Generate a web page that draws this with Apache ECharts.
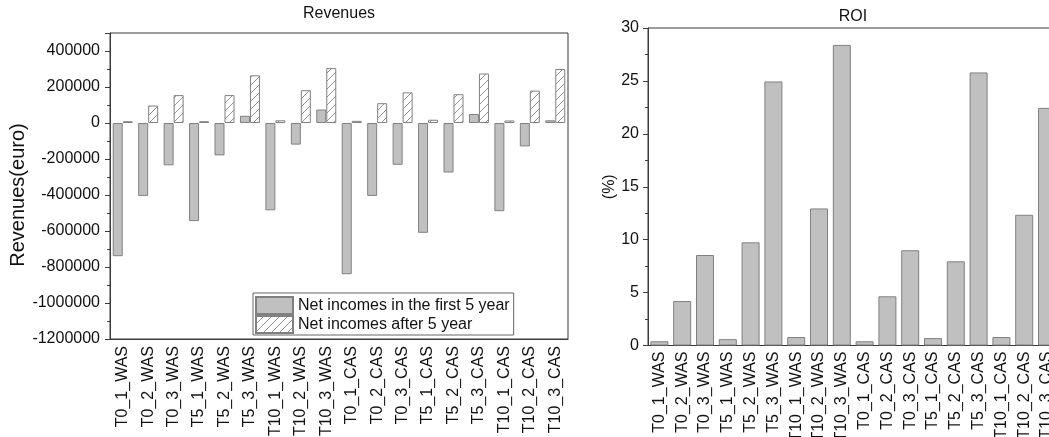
<!DOCTYPE html>
<html>
<head>
<meta charset="utf-8">
<script src="https://cdn.jsdelivr.net/npm/echarts@6/dist/echarts.min.js"></script>
<style>
  html, body { margin: 0; padding: 0; background: #fff; }
  #chart { width: 1049px; height: 437px; }
</style>
</head>
<body>
<div id="chart"></div>
<script>
// Scenario names shared by both panels
const categories = [
  'T0_1_WAS', 'T0_2_WAS', 'T0_3_WAS', 'T5_1_WAS', 'T5_2_WAS', 'T5_3_WAS',
  'T10_1_WAS', 'T10_2_WAS', 'T10_3_WAS',
  'T0_1_CAS', 'T0_2_CAS', 'T0_3_CAS', 'T5_1_CAS', 'T5_2_CAS', 'T5_3_CAS',
  'T10_1_CAS', 'T10_2_CAS', 'T10_3_CAS'
];

// Revenues (euro)
const netFirst5 = [
  -740000, -405000, -235000, -545000, -180000, 40000, -485000, -120000, 75000,
  -840000, -405000, -232000, -610000, -275000, 50000, -490000, -130000, 15000
];
const netAfter5 = [
  10000, 97000, 155000, 10000, 155000, 265000, 15000, 182000, 305000,
  12000, 110000, 170000, 18000, 160000, 275000, 14000, 180000, 300000
];

// Return on investment (%)
const roi = [
  0.4, 4.2, 8.55, 0.6, 9.75, 24.95, 0.8, 12.95, 28.4,
  0.4, 4.65, 9.0, 0.7, 7.95, 25.8, 0.8, 12.35, 22.45
];

const seriesNames = ['Net incomes in the first 5 year', 'Net incomes after 5 year'];

// Diagonal hatch tile for the "after 5 year" bars
function hatchTile() {
  const c = document.createElement('canvas');
  c.width = 8; c.height = 8;
  const g = c.getContext('2d');
  g.fillStyle = '#ffffff';
  g.fillRect(0, 0, 8, 8);
  g.strokeStyle = '#666666';
  g.lineWidth = 0.7;
  g.beginPath();
  g.moveTo(-1, 9); g.lineTo(9, -1);
  g.moveTo(-1, 1); g.lineTo(1, -1);
  g.moveTo(7, 9); g.lineTo(9, 7);
  g.stroke();
  return c;
}

const FONT = 'Liberation Sans, Arial, sans-serif';
const TXT = '#111';
const AXIS = '#3a3a3a';
const GRAY = '#c0c0c0';
const EDGE = '#808080';

const chart = echarts.init(document.getElementById('chart'), null, { renderer: 'canvas' });

const baseY = {
  axisLine: { show: true, lineStyle: { color: AXIS, width: 1 } },
  axisTick: { show: true, inside: false, length: 5, lineStyle: { color: AXIS } },
  minorTick: { show: true, splitNumber: 2, length: 3, lineStyle: { color: AXIS } },
  splitLine: { show: false },
  minorSplitLine: { show: false },
  axisLabel: { color: TXT, fontSize: 16, fontFamily: FONT, formatter: (v) => String(v) },
  nameLocation: 'middle',
  nameRotate: 90,
  nameTextStyle: { color: TXT, fontFamily: FONT }
};

const baseX = {
  type: 'category',
  data: categories,
  axisLine: { show: true, onZero: false, lineStyle: { color: AXIS, width: 1 } },
  axisTick: { show: false },
  splitLine: { show: false },
  axisLabel: { interval: 0, rotate: 90, color: TXT, fontSize: 16, fontFamily: FONT, margin: 7 }
};

chart.setOption({
  animation: false,
  backgroundColor: '#fff',
  title: [
    { text: 'Revenues', left: 339, top: 6, padding: 0, textAlign: 'center',
      textStyle: { color: TXT, fontSize: 16, fontWeight: 'normal', fontFamily: FONT } },
    { text: 'ROI', left: 853, top: 9, padding: 0, textAlign: 'center',
      textStyle: { color: TXT, fontSize: 16, fontWeight: 'normal', fontFamily: FONT } }
  ],
  legend: {
    data: seriesNames,
    orient: 'vertical',
    left: 253, top: 293,
    padding: [3, 4, 1, 2],
    itemWidth: 37, itemHeight: 17, itemGap: 0,
    icon: 'rect',
    borderColor: '#666', borderWidth: 1, borderRadius: 0,
    backgroundColor: '#fff',
    textStyle: { color: TXT, fontSize: 16, fontFamily: FONT }
  },
  grid: [
    { left: 110, top: 33, width: 458, height: 306, show: true,
      borderColor: AXIS, borderWidth: 1, backgroundColor: 'transparent',
      containLabel: false, outerBoundsMode: 'none' },
    { left: 648, top: 28, width: 410.4, height: 317.5, show: true,
      borderColor: AXIS, borderWidth: 1, backgroundColor: 'transparent',
      containLabel: false, outerBoundsMode: 'none' }
  ],
  xAxis: [
    Object.assign({}, baseX, { gridIndex: 0 }),
    Object.assign({}, baseX, { gridIndex: 1, axisLabel: Object.assign({}, baseX.axisLabel, { margin: 6 }) })
  ],
  yAxis: [
    Object.assign({}, baseY, {
      gridIndex: 0, type: 'value', min: -1200000, max: 500000, interval: 200000,
      name: 'Revenues(euro)', nameGap: 76,
      nameTextStyle: { color: TXT, fontFamily: FONT, fontSize: 20, padding: [0, 18, 0, 0] },
      axisLabel: Object.assign({}, baseY.axisLabel, { margin: 10, showMaxLabel: false })
    }),
    Object.assign({}, baseY, {
      gridIndex: 1, type: 'value', min: 0, max: 30, interval: 5,
      name: '(%)', nameGap: 30,
      nameTextStyle: { color: TXT, fontFamily: FONT, fontSize: 16 },
      axisLabel: Object.assign({}, baseY.axisLabel, { margin: 9 })
    })
  ],
  series: [
    {
      name: seriesNames[0], type: 'bar', xAxisIndex: 0, yAxisIndex: 0,
      data: netFirst5, barWidth: 10, barGap: '0%',
      itemStyle: { color: GRAY, borderColor: EDGE, borderWidth: 1 }
    },
    {
      name: seriesNames[1], type: 'bar', xAxisIndex: 0, yAxisIndex: 0,
      data: netAfter5, barWidth: 10, barGap: '0%',
      itemStyle: { color: { image: hatchTile(), repeat: 'repeat' }, borderColor: EDGE, borderWidth: 1 }
    },
    {
      name: 'ROI', type: 'bar', xAxisIndex: 1, yAxisIndex: 1,
      data: roi, barWidth: 18,
      itemStyle: { color: GRAY, borderColor: EDGE, borderWidth: 1 }
    }
  ]
});
</script>
</body>
</html>
